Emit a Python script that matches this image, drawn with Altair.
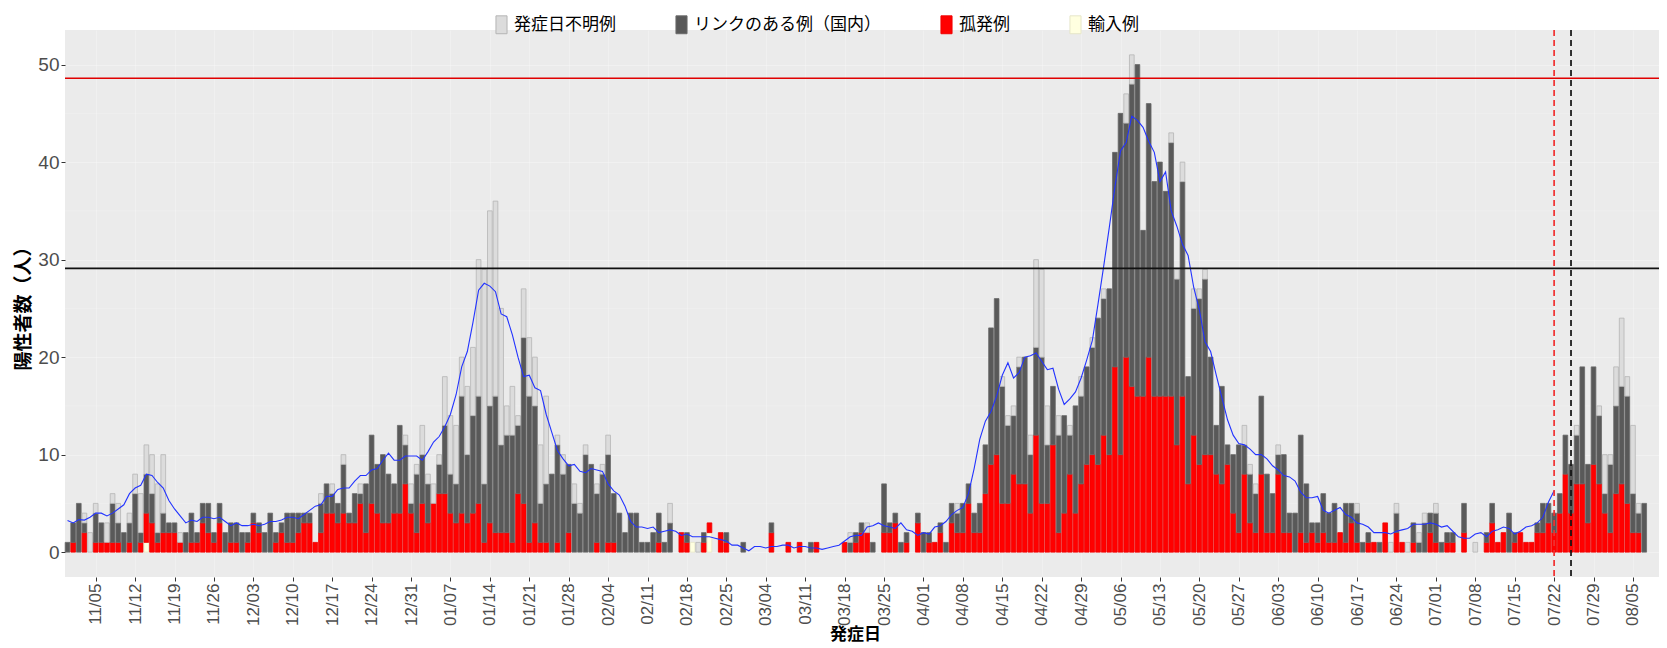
import altair as alt
import pandas as pd

# ---- data (daily, 2020-10-31 .. 2021-08-07) ----
start_date = "2020-10-31"
end_date = "2021-08-07"

isolated = [  # 孤発例
    0,1,0,2,0,1,1,1,1,1, 0,1,0,1,3,3,1,2,2,2, 1,0,1,1,3,2,1,3,0,1,
    1,0,1,3,2,0,0,1,2,1, 1,2,3,3,1,2,4,4,3,4, 3,3,5,2,5,4,3,3,4,4,
    7,4,2,5,3,5,6,6,4,3, 4,3,4,5,1,3,2,2,2,1, 6,5,1,3,1,1,0,1,0,2,
    0,0,0,0,1,0,1,1,0,0, 0,0,0,0,0,1,0,0,0,2, 1,0,0,1,1,0,2,1,0,0,
    0,0,0,0,0,2,0,0,1,0, 1,0,0,1,0,0,0,0,1,0, 1,2,2,0,0,2,2,3,0,1,
    0,3,0,1,1,2,0,3,2,2, 5,2,2,6,9,10,5,5,8,7, 7,4,12,5,5,11,2,4,8,4,
    7,9,10,9,12,10,19,10,20,17, 16,16,20,16,16,16,16,11,16,7, 12,9,10,10,8,7,9,4,2,8,
    3,2,8,2,2,8,2,2,0,2, 1,2,1,2,1,1,2,1,3,1, 0,1,1,0,3,0,2,1,0,1,
    0,0,2,1,0,1,1,0,2,0, 0,0,1,3,1,2,0,1,2,1, 1,2,2,3,2,4,8,4,7,7,
    3,9,7,4,2,6,7,5,2,2,0,
]
linked = [  # リンクのある例（国内）
    1,2,5,1,0,3,2,0,4,2, 2,2,6,1,4,3,1,2,1,1, 0,2,3,1,2,3,1,2,2,2,
    2,2,1,1,1,2,4,1,1,3, 3,2,1,1,0,3,3,2,2,5, 1,3,1,5,7,5,7,5,3,9,
    4,1,6,5,4,0,3,7,4,4, 12,7,10,11,6,12,14,9,10,11, 7,17,15,12,4,6,8,10,8,7,
    5,4,10,9,5,8,9,5,4,2, 4,4,1,1,2,3,1,3,0,0, 1,0,0,1,0,0,0,1,0,0,
    1,0,0,0,0,1,0,0,0,0, 0,0,1,0,0,0,0,0,0,1, 1,1,0,1,0,5,1,1,1,1,
    0,1,2,1,0,1,1,2,2,3, 2,2,3,5,14,16,12,8,6,12, 13,6,9,15,6,6,10,10,4,11,
    9,10,11,15,14,17,22,35,24,31, 34,17,26,22,24,21,26,17,22,11, 13,17,18,10,5,10,2,6,9,3,
    5,4,8,6,4,2,8,2,4,10, 6,1,2,4,3,4,0,4,2,3, 1,1,0,1,0,0,2,0,0,2,
    1,3,2,3,1,1,1,0,3,0, 0,0,1,2,0,0,4,1,0,0, 0,1,3,2,2,2,4,5,5,12,
    6,10,7,2,7,9,10,11,4,2,5,
]
unknown = [  # 発症日不明例
    0,0,0,1,2,1,0,2,1,2, 0,1,2,4,3,4,5,6,0,0, 1,0,0,0,0,0,0,0,0,0,
    0,0,0,0,0,0,0,0,0,0, 0,0,0,0,0,1,0,1,0,1, 0,0,1,0,0,0,0,0,0,0,
    1,2,1,3,1,2,1,5,6,6, 4,7,7,14,22,20,20,14,3,5, 1,5,6,5,6,9,0,1,2,0,
    2,1,1,0,1,1,2,0,0,0, 0,0,0,0,0,0,0,2,0,0, 0,0,1,0,0,0,0,0,0,0,
    0,0,0,0,0,0,0,0,0,0, 0,0,0,0,0,0,0,0,0,1, 0,0,1,0,0,0,0,0,0,0,
    0,0,0,0,0,0,0,0,1,0, 0,0,0,0,0,0,1,1,1,1, 0,2,9,9,4,0,2,0,1,0,
    2,0,1,0,1,0,0,0,3,3, 0,0,0,0,0,0,1,1,2,0, 2,1,1,0,0,0,0,0,0,2,
    1,1,0,0,0,1,0,0,0,0, 0,0,0,0,0,0,0,0,0,1, 0,0,0,0,0,1,1,0,1,0,
    1,1,0,1,0,0,0,0,0,0, 1,0,0,0,0,0,0,0,0,0, 0,0,0,0,0,0,0,0,1,0,
    0,0,1,4,1,4,7,2,7,1,0,
]
imported_days = ["2020-11-14", "2021-02-19", "2021-02-22"]  # 輸入例
imported_counts = [1, 1, 2]

red_line_value = 48.6
black_line_value = 29.1
red_dash_date = "2021-07-22"
black_dash_date = "2021-07-25"
avg_last_date = "2021-07-22"

tick_first = "2020-11-05"
tick_last = "2021-08-05"

cats = ["発症日不明例", "リンクのある例（国内）", "孤発例", "輸入例"]
fills = ["#DCDCDC", "#595959", "#FF0000", "#FFFFE0"]
strokes = ["#B5B5B5", "#6A6A6A", "#F00000", "#E6E6C8"]
stack_pos = {"輸入例": 0, "孤発例": 1, "リンクのある例（国内）": 2, "発症日不明例": 3}

# ---- build tables ----
dates = pd.date_range(start_date, end_date, freq="D")
date_str = [d.strftime("%Y-%m-%d") for d in dates]
imp_map = dict(zip(imported_days, imported_counts))
imported = [imp_map.get(s, 0) for s in date_str]

rows = []
for i, s in enumerate(date_str):
    for cat, arr in (("輸入例", imported), ("孤発例", isolated),
                     ("リンクのある例（国内）", linked), ("発症日不明例", unknown)):
        if arr[i] > 0:
            rows.append({"date": s, "cat": cat, "n": arr[i], "ord": stack_pos[cat]})
bars_df = pd.DataFrame(rows)

tot_df = pd.DataFrame({
    "date": date_str,
    "idx": list(range(len(date_str))),
    "total": [a + b + c + d for a, b, c, d in zip(imported, isolated, linked, unknown)],
})
avg_last_idx = date_str.index(avg_last_date)

W, H = 1594, 547
PX_PER_DAY = 5.631

def ms(s, extra_days=0.0):
    return int((pd.Timestamp(s, tz="UTC") + pd.Timedelta(days=extra_days)).value // 10**6)

x_domain = [ms(start_date, -0.45), ms(start_date, -0.45 + W / PX_PER_DAY)]
tick_vals = [ms(d.strftime("%Y-%m-%d")) for d in pd.date_range(tick_first, tick_last, freq="7D")]

LAB_FONT = "Liberation Sans"
JP_FONT = "Noto Sans CJK JP"

x_enc = alt.X(
    "date:T",
    scale=alt.Scale(type="utc", domain=x_domain, nice=False, padding=0),
    axis=alt.Axis(
        values=tick_vals, labelExpr="utcFormat(datum.value, '%m/%d')", labelAngle=270,
        labelFont=LAB_FONT, labelFontSize=17, labelColor="#4D4D4D", labelPadding=2,
        tickSize=4, tickColor="#333333", domain=False,
        grid=True, gridColor="#FFFFFF", gridOpacity=0.25,
        title="発症日", titleFont=JP_FONT, titleFontSize=17, titleFontWeight="bold",
        titleColor="#000000", titleX=790, titleY=57, titleBaseline="middle",
        titleAlign="center", titleAnchor="start",
    ),
)

y_scale = alt.Scale(domain=[-2.55, 53.55], nice=False, zero=False)

bars = alt.Chart(bars_df).mark_bar(size=4.7, strokeWidth=0.8).encode(
    x=x_enc,
    y=alt.Y(
        "n:Q", stack="zero", scale=y_scale,
        axis=alt.Axis(
            values=[0, 10, 20, 30, 40, 50], labelFont=LAB_FONT, labelFontSize=19,
            labelColor="#4D4D4D", labelPadding=2, tickSize=4, tickColor="#333333",
            domain=False, grid=True, gridColor="#FFFFFF", gridOpacity=0.3,
            title="陽性者数（人）", titleFont=JP_FONT, titleFontSize=19,
            titleFontWeight="bold", titleColor="#000000", titleAngle=270,
            titleX=-42, titleY=H / 2, titleAlign="center", titleBaseline="middle",
            titleAnchor="start",
        ),
    ),
    color=alt.Color(
        "cat:N", scale=alt.Scale(domain=cats, range=fills),
        legend=alt.Legend(
            orient="none", legendX=427, legendY=-15, direction="horizontal",
            title=None, symbolType="M-0.62,-1H0.62V1H-0.62Z", symbolSize=320,
            symbolStrokeColor="#BDBDBD", symbolStrokeWidth=1, symbolOpacity=1,
            labelFont=JP_FONT, labelFontSize=17, labelColor="#000000",
            labelOffset=3, columnPadding=56, labelLimit=0, padding=0,
        ),
    ),
    stroke=alt.Stroke("cat:N", scale=alt.Scale(domain=cats, range=strokes), legend=None),
    order=alt.Order("ord:Q", sort="ascending"),
)

minor_grid = alt.Chart(pd.DataFrame({"g": [5, 15, 25, 35, 45]})).mark_rule(
    color="#FFFFFF", opacity=0.2, strokeWidth=1
).encode(y=alt.Y("g:Q", scale=y_scale))

avg_line = alt.Chart(tot_df).transform_window(
    ma="mean(total)", frame=[-3, 3], sort=[alt.SortField("idx")]
).transform_filter(
    f"datum.idx <= {avg_last_idx}"
).mark_line(color="#2233FF", strokeWidth=1.1).encode(
    x="date:T", y=alt.Y("ma:Q", scale=y_scale)
)

hline_red = alt.Chart(pd.DataFrame({"v": [red_line_value]})).mark_rule(
    color="#E00000", strokeWidth=1.3).encode(y=alt.Y("v:Q", scale=y_scale))
hline_black = alt.Chart(pd.DataFrame({"v": [black_line_value]})).mark_rule(
    color="#111111", strokeWidth=1.6).encode(y=alt.Y("v:Q", scale=y_scale))
vline_red = alt.Chart(pd.DataFrame({"d": [red_dash_date]})).mark_rule(
    color="#F03030", strokeWidth=1.7, strokeDash=[6, 4]).encode(x="d:T")
vline_black = alt.Chart(pd.DataFrame({"d": [black_dash_date]})).mark_rule(
    color="#111111", strokeWidth=1.7, strokeDash=[6, 4]).encode(x="d:T")

chart = alt.layer(
    minor_grid, bars, avg_line, hline_black, hline_red, vline_red, vline_black
).properties(
    width=W, height=H,
    padding={"left": 57, "top": 22, "right": 0, "bottom": 80},
    autosize=alt.AutoSizeParams(type="none"),
).configure_view(
    fill="#EBEBEB", strokeWidth=0
)

chart.save("out.html", embed_options={"renderer": "svg", "actions": False})
